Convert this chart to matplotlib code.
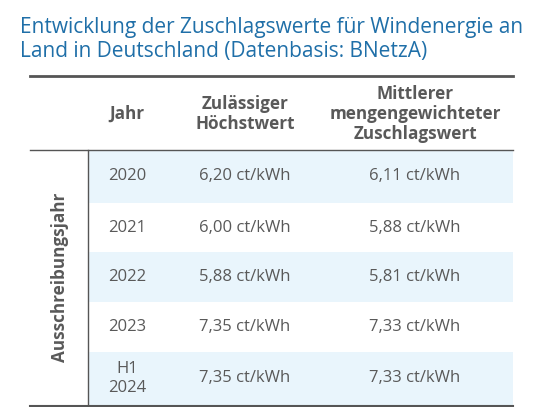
import matplotlib.pyplot as plt

plt.rcParams['font.family'] = ['Open Sans', 'DejaVu Sans']

years = ['2020', '2021', '2022', '2023', 'H1\n2024']
hoechstwert = ['6,20 ct/kWh', '6,00 ct/kWh', '5,88 ct/kWh', '7,35 ct/kWh', '7,35 ct/kWh']
zuschlagswert = ['6,11 ct/kWh', '5,88 ct/kWh', '5,81 ct/kWh', '7,33 ct/kWh', '7,33 ct/kWh']
headers = ['Jahr', 'Zulässiger\nHöchstwert', 'Mittlerer\nmengengewichteter\nZuschlagswert']

W, H = 558, 407
fig = plt.figure(figsize=(W / 100, H / 100), dpi=100)
ax = fig.add_axes([0, 0, 1, 1])
ax.set_xlim(0, W)
ax.set_ylim(H, 0)
ax.axis('off')

txt = '#595959'
blue = '#1f6fa8'
shade = '#e9f5fc'

ax.text(20, 27, 'Entwicklung der Zuschlagswerte für Windenergie an', color=blue,
        fontsize=15, va='center', ha='left')
ax.text(20, 51, 'Land in Deutschland (Datenbasis: BNetzA)', color=blue,
        fontsize=15, va='center', ha='left')

col_x = [127, 245, 415]
for x, h in zip(col_x, headers):
    ax.text(x, 114, h, ha='center', va='center', fontsize=12.3, fontweight='bold',
            color=txt, linespacing=1.15)

row_edges = [150, 203, 252, 302, 352, 405]
for i, (yr, a, b) in enumerate(zip(years, hoechstwert, zuschlagswert)):
    top, bot = row_edges[i], row_edges[i + 1]
    if i % 2 == 0:
        ax.fill_between([88, 513], top, bot, color=shade, lw=0)
    yc = (top + bot) / 2
    for x, s in zip(col_x, [yr, a, b]):
        ax.text(x, yc, s, ha='center', va='center', fontsize=12, color=txt,
                linespacing=1.3)

ax.plot([30, 513], [76, 76], color='#555555', lw=2)
ax.plot([30, 513], [150, 150], color='#555555', lw=1)
ax.plot([30, 513], [406, 406], color='#555555', lw=1.5)
ax.plot([88, 88], [150, 406], color='#555555', lw=1)
ax.text(60, 277, 'Ausschreibungsjahr', rotation=90, ha='center', va='center',
        fontsize=12.3, fontweight='bold', color=txt)

fig.savefig('out.png', dpi=100)
